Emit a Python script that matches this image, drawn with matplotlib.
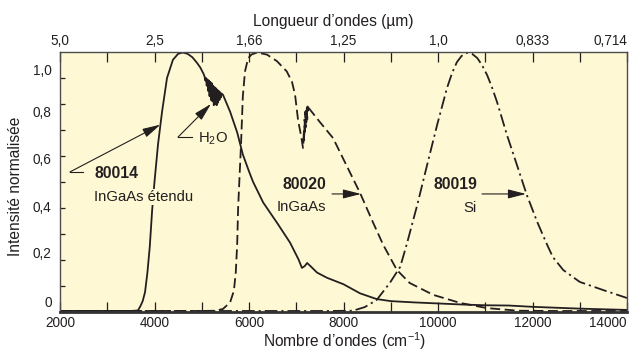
import matplotlib.pyplot as plt
from matplotlib.ticker import FixedLocator

plt.rcParams['font.family'] = ['Liberation Sans', 'DejaVu Sans']
plt.rcParams['mathtext.fontset'] = 'custom'
plt.rcParams['mathtext.rm'] = 'Liberation Sans'
plt.rcParams['mathtext.it'] = 'Liberation Sans:italic'
plt.rcParams['mathtext.bf'] = 'Liberation Sans:bold'

INK = '#231f20'        # couleur des courbes
BG = '#fef8d4'         # fond jaune pâle
FRAME = '#4d4d4d'

# --- 80014 InGaAs étendu (trait plein), bande H2O vers 5100-5420 cm-1
wn_80014 = [2000, 3000, 3500, 3650, 3700, 3750, 3800, 3850, 3900, 3950, 4000,
            4075, 4160, 4265, 4390, 4500, 4600, 4700, 4800, 4900, 4970, 5040,
            5060, 5075, 5090, 5105, 5120, 5135, 5150, 5165, 5180, 5195, 5210,
            5225, 5240, 5255, 5270, 5285, 5300, 5315, 5330, 5345, 5360, 5375,
            5390, 5405, 5420,
            5450, 5600, 5750, 5870, 6000, 6085, 6300, 6600, 6870, 7050, 7120,
            7180, 7230, 7300, 7440, 7650, 8000, 8350, 8700, 9000, 9500, 10000,
            10500, 11000, 11500, 12000, 13000, 14000]
int_80014 = [0.002, 0.002, 0.002, 0.004, 0.02, 0.04, 0.075, 0.15, 0.25, 0.39, 0.5,
             0.645, 0.77, 0.9, 0.97, 0.993, 0.998, 0.993, 0.98, 0.958, 0.94, 0.915,
             0.905, 0.89, 0.9, 0.87, 0.895, 0.85, 0.89, 0.83, 0.885, 0.815, 0.88,
             0.81, 0.87, 0.795, 0.865, 0.8, 0.86, 0.795, 0.855, 0.805, 0.85, 0.815,
             0.845, 0.825, 0.84,
             0.835, 0.77, 0.69, 0.605, 0.54, 0.5, 0.42, 0.34, 0.265, 0.2, 0.168,
             0.175, 0.187, 0.175, 0.15, 0.13, 0.105, 0.07, 0.048, 0.04, 0.035, 0.031,
             0.027, 0.024, 0.023, 0.018, 0.011, 0.006]

# --- 80020 InGaAs (tirets)
wn_80020 = [2000, 5000, 5300, 5450, 5600, 5680, 5720, 5750, 5770, 5800, 5830,
            5870, 5915, 5980, 6050, 6170, 6380, 6590, 6800, 6910, 6975, 7040,
            7100, 7143, 7150, 7160, 7168, 7176, 7184, 7192, 7200, 7208, 7216,
            7224, 7232, 7240, 7250, 7260, 7500, 7780, 7990, 8350, 8620, 8840,
            9130, 9400, 9900, 10470, 11040, 11700, 12500, 14000]
int_80020 = [0.002, 0.002, 0.003, 0.01, 0.035, 0.08, 0.15, 0.26, 0.4, 0.52, 0.64,
             0.83, 0.925, 0.975, 0.99, 0.998, 0.99, 0.965, 0.925, 0.885, 0.835, 0.735,
             0.68, 0.63, 0.64, 0.7, 0.66, 0.74, 0.69, 0.77, 0.71, 0.78, 0.73,
             0.785, 0.74, 0.79, 0.77, 0.785, 0.73, 0.668, 0.59, 0.457, 0.345, 0.257,
             0.16, 0.11, 0.064, 0.033, 0.013, 0.003, 0.002, 0.002]

# --- 80019 Si (tiret-point)
wn_80019 = [2000, 7700, 8200, 8450, 8700, 8980, 9200, 9340, 9560, 9770, 9980,
            10190, 10300, 10400, 10500, 10610, 10720, 10830, 10930, 11040, 11140,
            11250, 11460, 11670, 11880, 12100, 12310, 12430, 12650, 13000, 13490,
            14000]
int_80019 = [0.002, 0.002, 0.003, 0.017, 0.044, 0.11, 0.172, 0.26, 0.41, 0.565, 0.718,
             0.861, 0.92, 0.961, 0.985, 0.997, 0.993, 0.977, 0.95, 0.911, 0.865,
             0.807, 0.68, 0.565, 0.449, 0.345, 0.257, 0.21, 0.16, 0.114, 0.083,
             0.052]

# axes
x_ticks = [2000, 4000, 6000, 8000, 10000, 12000, 14000]
x_minor = [3000, 5000, 7000, 9000, 11000, 13000]
top_labels = ['5,0', '2,5', '1,66', '1,25', '1,0', '0,833', '0,714']
y_label_pos = [0.04, 0.226, 0.403, 0.588, 0.769, 0.931]
y_labels = ['0', '0,2', '0,4', '0,6', '0,8', '1,0']
y_minor = [0.1, 0.2, 0.3, 0.4, 0.5, 0.6, 0.7, 0.8, 0.9]

TICK_FS = 9.8
LABEL_FS = 11.2
NOTE_FS = 10.7

fig = plt.figure(figsize=(6.31, 3.54), dpi=100)
ax = fig.add_axes([60 / 631, 1 - 311.5 / 354, 567 / 631, 259.5 / 354])
ax.set_facecolor(BG)

ax.plot(wn_80014, int_80014, color=INK, lw=1.3, solid_joinstyle='round')
ax.plot(wn_80020, int_80020, color=INK, lw=1.3, linestyle=(0, (5.5, 2.5)))
ax.plot(wn_80019, int_80019, color=INK, lw=1.3, linestyle=(0, (7, 2.2, 1.2, 2.2)))

ax.set_xlim(2000, 14000)
ax.set_ylim(0, 1.0)

for side in ['top', 'left', 'right']:
    ax.spines[side].set_color(FRAME)
    ax.spines[side].set_linewidth(1.0)
ax.spines['bottom'].set_color('#333333')
ax.spines['bottom'].set_linewidth(2.0)

ax.set_xticks(x_ticks)
ax.set_xticks(x_minor, minor=True)
ax.tick_params(axis='x', which='both', direction='in', length=7.5, width=0.9,
               color=INK, labelsize=TICK_FS, pad=3, labelcolor=INK)
ax.get_xticklabels()[-1].set_horizontalalignment('right')

ax.set_yticks(y_label_pos, y_labels)
ax.set_yticks(y_minor, minor=True)
ax.tick_params(axis='y', which='major', length=0, pad=6, labelsize=TICK_FS, labelcolor=INK)
ax.tick_params(axis='y', which='minor', direction='in', length=3.6, width=0.9, color=INK)

secax = ax.secondary_xaxis('top')
secax.set_xticks(x_ticks, top_labels)
secax.xaxis.set_minor_locator(FixedLocator(x_minor))
secax.tick_params(axis='x', which='both', direction='in', length=7.5, width=0.9,
                  color=INK, labelsize=TICK_FS, pad=3, labelcolor=INK)
secax.get_xticklabels()[-1].set_horizontalalignment('right')
secax.spines['top'].set_visible(False)

fig.text(345 / 631, 1 - 347 / 354, 'Nombre d’ondes (cm$^{-1}$)', ha='center', va='baseline',
         fontsize=LABEL_FS, color=INK)
fig.text(333 / 631, 1 - 26 / 354, 'Longueur d’ondes (µm)', ha='center', va='baseline',
         fontsize=LABEL_FS, color=INK)
fig.text(16 / 631, 1 - 186 / 354, 'Intensité normalisée', ha='center', va='center',
         rotation=90, fontsize=LABEL_FS, color=INK)

# annotations
arrow = dict(arrowstyle='-|>,head_length=1.1,head_width=0.28', mutation_scale=10,
             lw=0.8, color=INK, shrinkA=0, shrinkB=0)
line_kw = dict(color=INK, lw=0.8)

ax.text(2720, 0.513, '80014', fontsize=NOTE_FS + 0.6, fontweight='bold', color=INK, va='baseline')
ax.text(2720, 0.426, 'InGaAs étendu', fontsize=NOTE_FS, color=INK, va='baseline', zorder=5,
        bbox=dict(facecolor=BG, edgecolor='none', pad=1.0))
ax.plot([2212, 2487], [0.538, 0.538], **line_kw)
ax.annotate('', xy=(4125, 0.72), xytext=(2212, 0.538), arrowprops=arrow)

ax.text(4921, 0.652, 'H$_2$O', fontsize=NOTE_FS, color=INK, va='baseline')
ax.plot([4497, 4794], [0.672, 0.672], **line_kw)
ax.annotate('', xy=(5196, 0.80), xytext=(4497, 0.672), arrowprops=arrow)

ax.text(7630, 0.471, '80020', fontsize=NOTE_FS + 0.6, fontweight='bold', color=INK,
        va='baseline', ha='right')
ax.text(7630, 0.387, 'InGaAs', fontsize=NOTE_FS, color=INK, va='baseline', ha='right')
ax.annotate('', xy=(8370, 0.453), xytext=(7757, 0.453), arrowprops=arrow)

ax.text(10825, 0.471, '80019', fontsize=NOTE_FS + 0.6, fontweight='bold', color=INK,
        va='baseline', ha='right')
ax.text(10825, 0.385, 'Si', fontsize=NOTE_FS, color=INK, va='baseline', ha='right')
ax.annotate('', xy=(11862, 0.453), xytext=(10931, 0.453), arrowprops=arrow)

fig.savefig('out.png', dpi=100, facecolor='white')
